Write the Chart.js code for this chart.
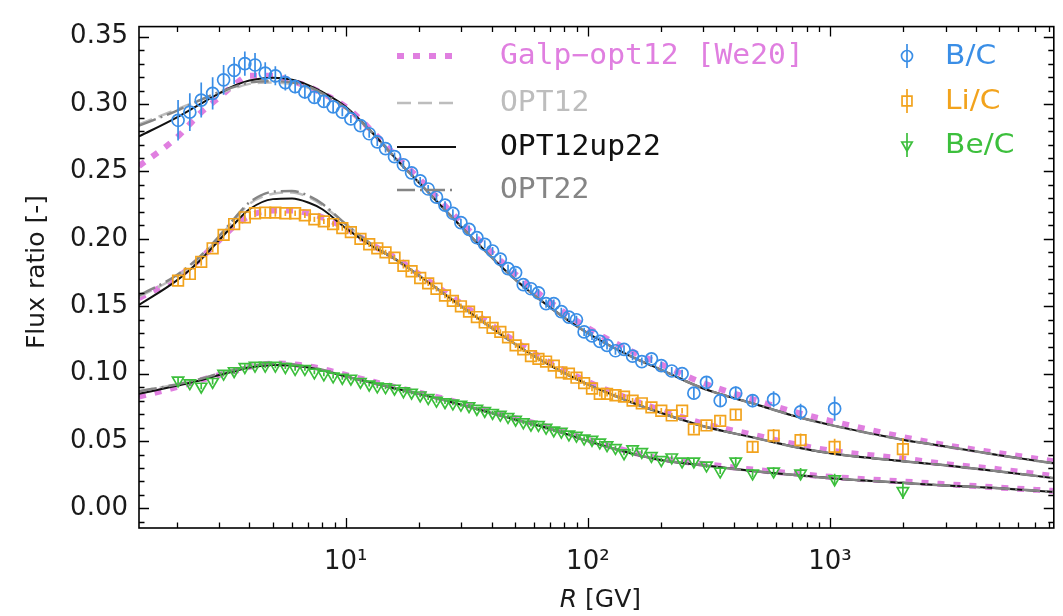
<!DOCTYPE html>
<html><head><meta charset="utf-8">
<script src="https://cdn.jsdelivr.net/npm/chart.js@4.4.1/dist/chart.umd.min.js"></script>
<style>html,body{margin:0;padding:0;background:#fff;}#c{display:block;}</style>
</head><body>
<canvas id="c" width="1063" height="616"></canvas>
<script>
// ---------- data (rigidity bins, GV) ----------
const binR = [2.03,2.27,2.53,2.82,3.13,3.46,3.83,4.22,4.65,5.12,5.63,6.18,6.78,7.42,8.12,8.87,9.68,10.5,11.5,12.5,13.5,14.6,15.9,17.3,18.7,20.3,21.9,23.7,25.7,27.7,29.9,32.3,34.8,37.5,40.4,43.5,46.8,50.3,54.1,58.2,62.5,67.2,72.3,77.7,83.5,89.7,96.5,104,112,120,130,141,153,167,183,201,222,245,274,309,352,408,479,585,756,1045,2000];

const bcVal = [0.288,0.294,0.303,0.308,0.318,0.325,0.330,0.329,0.323,0.321,
 0.316,0.313,0.309,0.305,0.302,0.298,0.294,0.289,0.284,0.278,
 0.272,0.267,0.261,0.255,0.249,0.243,0.237,0.231,0.225,0.219,
 0.212,0.207,0.201,0.196,0.191,0.185,0.178,0.175,0.166,0.163,
 0.160,0.152,0.152,0.146,0.142,0.140,0.131,0.128,0.124,0.121,
 0.117,0.118,0.113,0.109,0.111,0.106,0.102,0.100,0.0855,0.0935,
 0.080,0.0855,0.080,0.081,0.0717,0.074];
const bcErr = [0.015,0.014,0.013,0.012,0.011,0.010,0.009,0.009,0.008,0.007,
 0.006,0.005,0.005,0.004,0.004,0.004,0.003,0.003,0.003,0.003,
 0.003,0.003,0.003,0.003,0.003,0.003,0.003,0.003,0.003,0.003,
 0.003,0.003,0.003,0.003,0.003,0.003,0.003,0.003,0.003,0.003,
 0.003,0.003,0.003,0.003,0.003,0.003,0.003,0.003,0.003,0.003,
 0.003,0.003,0.003,0.003,0.003,0.003,0.003,0.003,0.004,0.004,
 0.004,0.005,0.005,0.006,0.006,0.009];

const liVal = [0.169,0.174,0.183,0.193,0.203,0.211,0.216,0.219,0.2195,0.2195,
 0.219,0.219,0.2175,0.2145,0.213,0.211,0.208,0.205,0.200,0.196,
 0.193,0.190,0.186,0.180,0.176,0.171,0.167,0.163,0.158,0.154,
 0.150,0.146,0.142,0.138,0.134,0.131,0.127,0.121,0.118,0.113,
 0.111,0.109,0.106,0.101,0.100,0.097,0.093,0.089,0.085,0.085,
 0.084,0.083,0.080,0.078,0.075,0.0725,0.069,0.0725,0.0587,0.0616,
 0.065,0.0696,0.0457,0.054,0.0507,0.0457,0.044];
const liErr = [0.004,0.004,0.003,0.003,0.003,0.003,0.003,0.003,0.003,0.003,
 0.002,0.002,0.002,0.002,0.002,0.002,0.002,0.002,0.002,0.002,
 0.002,0.002,0.002,0.002,0.002,0.002,0.002,0.002,0.002,0.002,
 0.002,0.002,0.002,0.002,0.002,0.002,0.002,0.002,0.002,0.002,
 0.002,0.002,0.002,0.002,0.002,0.002,0.002,0.002,0.002,0.002,
 0.002,0.002,0.002,0.002,0.002,0.002,0.002,0.002,
 0.003,0.003,0.003,0.004,0.004,0.005,0.005,0.006,0.008];

const beVal = [0.095,0.093,0.0905,0.094,0.100,0.102,0.105,0.106,0.106,0.106,
 0.105,0.1036,0.1036,0.101,0.0995,0.098,0.097,0.0964,0.094,0.092,
 0.0906,0.090,0.089,0.087,0.086,0.084,0.082,0.080,0.079,0.078,
 0.077,0.076,0.074,0.0725,0.071,0.0696,0.068,0.066,0.064,0.0623,
 0.062,0.060,0.058,0.057,0.055,0.054,0.052,0.051,0.049,0.047,
 0.045,0.041,0.044,0.042,0.039,0.036,0.038,0.035,0.035,0.032,
 0.0275,0.035,0.026,0.0275,0.026,0.0217,0.013];
const beErr = [0.002,0.002,0.002,0.002,0.002,0.002,0.002,0.002,0.002,0.002,
 0.0015,0.0015,0.0015,0.0015,0.0015,0.0015,0.0015,0.0015,0.0015,0.0015,
 0.0015,0.0015,0.0015,0.0015,0.0015,0.0015,0.0015,0.0015,0.0015,0.0015,
 0.0015,0.0015,0.0015,0.0015,0.0015,0.0015,0.0015,0.0015,0.0015,0.0015,
 0.0015,0.0015,0.0015,0.0015,0.0015,0.0015,0.0015,0.0015,0.0015,0.0015,
 0.0015,0.0015,0.0015,0.0015,0.0015,0.0015,0.0015,0.0015,
 0.002,0.002,0.002,0.003,0.003,0.003,0.004,0.004,0.006];

// ---------- model curves ----------
const modelR = [1.4,2,2.5,3,3.5,4,5,6,7,8,10,13,16,20,30,50,70,100,150,200,300,500,700,1000,2000,3000,5000,8400];

const bcGalp     = [0.254,0.275,0.293,0.305,0.315,0.321,0.321,0.317,0.313,0.308,0.298,0.279,0.262,0.245,0.212,0.174,0.153,0.134,0.117,0.107,0.093,0.080,0.072,0.065,0.053,0.047,0.041,0.035];
const bcOpt12    = [0.285,0.296,0.303,0.308,0.312,0.315,0.316,0.315,0.312,0.308,0.297,0.278,0.260,0.242,0.209,0.170,0.149,0.130,0.113,0.103,0.089,0.077,0.069,0.062,0.051,0.046,0.0395,0.0335];
const bcOpt12up22= [0.276,0.290,0.300,0.308,0.314,0.3175,0.3195,0.318,0.314,0.309,0.298,0.278,0.260,0.242,0.209,0.170,0.149,0.130,0.113,0.103,0.089,0.077,0.069,0.062,0.051,0.046,0.0395,0.0335];
const bcOpt22    = [0.284,0.295,0.303,0.309,0.313,0.316,0.317,0.316,0.313,0.308,0.297,0.278,0.260,0.242,0.209,0.170,0.149,0.130,0.113,0.103,0.089,0.077,0.069,0.062,0.051,0.046,0.0395,0.0335];

const liGalp     = [0.156,0.171,0.185,0.199,0.210,0.217,0.221,0.221,0.219,0.216,0.208,0.195,0.186,0.174,0.152,0.124,0.108,0.094,0.081,0.073,0.063,0.054,0.048,0.043,0.037,0.033,0.029,0.024];
const liOpt12    = [0.157,0.172,0.186,0.201,0.215,0.226,0.2335,0.2345,0.231,0.225,0.211,0.195,0.185,0.173,0.150,0.122,0.106,0.092,0.079,0.071,0.061,0.052,0.046,0.041,0.035,0.032,0.0275,0.0225];
const liOpt12up22= [0.151,0.169,0.184,0.199,0.212,0.222,0.2295,0.230,0.227,0.222,0.208,0.194,0.185,0.173,0.150,0.122,0.106,0.092,0.079,0.071,0.061,0.052,0.046,0.041,0.035,0.032,0.0275,0.0225];
const liOpt22    = [0.158,0.173,0.187,0.202,0.216,0.227,0.235,0.2355,0.232,0.226,0.211,0.195,0.185,0.173,0.150,0.122,0.106,0.092,0.079,0.071,0.061,0.052,0.046,0.041,0.035,0.032,0.0275,0.0225];

const beGalp     = [0.083,0.090,0.095,0.099,0.102,0.105,0.1075,0.107,0.1055,0.1035,0.099,0.094,0.090,0.086,0.078,0.067,0.060,0.051,0.042,0.037,0.033,0.0285,0.026,0.0235,0.020,0.018,0.0155,0.013];
const beOpt12    = [0.087,0.092,0.096,0.100,0.103,0.1055,0.1075,0.107,0.105,0.103,0.098,0.093,0.089,0.085,0.077,0.066,0.059,0.050,0.041,0.036,0.032,0.0275,0.025,0.0225,0.019,0.017,0.015,0.0123];
const beOpt12up22= [0.085,0.091,0.095,0.099,0.102,0.1045,0.1065,0.106,0.1045,0.1025,0.098,0.093,0.089,0.085,0.077,0.066,0.059,0.050,0.041,0.036,0.032,0.0275,0.025,0.0225,0.019,0.017,0.015,0.0123];
const beOpt22    = [0.087,0.092,0.096,0.100,0.103,0.1055,0.1075,0.107,0.105,0.103,0.098,0.093,0.089,0.085,0.077,0.066,0.059,0.050,0.041,0.036,0.032,0.0275,0.025,0.0225,0.019,0.017,0.015,0.0123];

// ---------- tick labels / text ----------
const xTickValues = [10, 100, 1000];
const xTickLabels = ['10\u00B9', '10\u00B2', '10\u00B3'];
const yTickValues = [0, 0.05, 0.10, 0.15, 0.20, 0.25, 0.30, 0.35];
const modelNames = ['Galp\u2212opt12 [We20]', 'OPT12', 'OPT12up22', 'OPT22'];
const dataNames = ['B/C', 'Li/C', 'Be/C'];

// ---------- styles ----------
const C_BLUE = '#3a8ee6', C_ORANGE = '#f2a31d', C_GREEN = '#3cbf3c';
const MODEL_STYLE = [
  {color:'#e07fe0', width:6,   dash:[7,9]},
  {color:'#bdbdbd', width:2.5, dash:[14,7]},
  {color:'#111111', width:2,   dash:[]},
  {color:'#858585', width:2.5, dash:[18,5,2,5]}
];
const DATA_STYLE = [
  {color:C_BLUE,   style:'circle',   radius:6,   rot:0},
  {color:C_ORANGE, style:'rect',     radius:7.5, rot:0},
  {color:C_GREEN,  style:'triangle', radius:6.5, rot:180}
];

const pts = (xs, ys) => ys.map((y, i) => ({x: xs[i], y}));

const datasets = [];
const modelSets = [
  [bcGalp, liGalp, beGalp],
  [bcOpt12, liOpt12, beOpt12],
  [bcOpt12up22, liOpt12up22, beOpt12up22],
  [bcOpt22, liOpt22, beOpt22]
];
const dataVals = [bcVal, liVal, beVal];
const dataErrs = [bcErr, liErr, beErr];
dataVals.forEach((vals, k) => {
  const s = DATA_STYLE[k];
  datasets.push({
    label: dataNames[k], data: pts(binR, vals), showLine:false,
    pointStyle: s.style, pointRadius: s.radius, pointRotation: s.rot,
    pointBorderColor: s.color, pointBackgroundColor: 'rgba(255,255,255,0)',
    pointBorderWidth: 1.7, order: 1, errors: dataErrs[k], clip: 0
  });
});
modelSets.forEach((arrs, m) => {
  const s = MODEL_STYLE[m];
  arrs.forEach(arr => {
    datasets.push({
      label: modelNames[m], data: pts(modelR, arr), showLine:true,
      borderColor: s.color, borderWidth: s.width, borderDash: s.dash,
      borderCapStyle: 'butt', pointRadius: 0, cubicInterpolationMode:'monotone',
      fill:false, order: m === 0 ? 10 : (6 - m), clip: 0
    });
  });
});

const FONT = 'DejaVu Sans';
function stretchText(ctx, text, x, y, sx) {
  ctx.save(); ctx.translate(x, y); ctx.scale(sx, 1); ctx.fillText(text, 0, 0); ctx.restore();
}
const decoPlugin = {
  id: 'deco',
  afterDatasetsDraw(chart) {
    const ctx = chart.ctx, a = chart.chartArea;
    const xs = chart.scales.x, ys = chart.scales.y;
    ctx.save();
    ctx.beginPath(); ctx.rect(a.left, a.top, a.right - a.left, a.bottom - a.top); ctx.clip();
    chart.data.datasets.forEach(ds => {
      if (!ds.errors) return;
      ctx.strokeStyle = ds.pointBorderColor; ctx.lineWidth = 1.7;
      ds.data.forEach((p, i) => {
        const e = ds.errors[i];
        const px = xs.getPixelForValue(p.x);
        ctx.beginPath();
        ctx.moveTo(px, ys.getPixelForValue(p.y - e));
        ctx.lineTo(px, ys.getPixelForValue(p.y + e));
        ctx.stroke();
      });
    });
    ctx.restore();
  },
  afterDraw(chart) {
    const ctx = chart.ctx, a = chart.chartArea;
    const xs = chart.scales.x, ys = chart.scales.y;
    ctx.save();
    ctx.strokeStyle = '#000'; ctx.lineWidth = 1.6;
    ctx.strokeRect(a.left, a.top, a.right - a.left, a.bottom - a.top);
    ctx.lineWidth = 1.3;
    for (let d = 0; d <= 3; d++) {
      for (let k = 1; k <= 9; k++) {
        const v = k * Math.pow(10, d);
        if (v < xs.min || v > xs.max) continue;
        const px = Math.round(xs.getPixelForValue(v)) + 0.5;
        const len = k === 1 ? 10 : 5.5;
        ctx.beginPath();
        ctx.moveTo(px, a.bottom); ctx.lineTo(px, a.bottom - len);
        ctx.moveTo(px, a.top); ctx.lineTo(px, a.top + len);
        ctx.stroke();
      }
    }
    for (let i = -1; i <= 35; i++) {
      const v = i / 100;
      if (v < ys.min || v > ys.max) continue;
      const py = Math.round(ys.getPixelForValue(v)) + 0.5;
      const len = (i % 5 === 0) ? 10 : 5.5;
      ctx.beginPath();
      ctx.moveTo(a.left, py); ctx.lineTo(a.left + len, py);
      ctx.moveTo(a.right, py); ctx.lineTo(a.right - len, py);
      ctx.stroke();
    }
    // axis titles
    ctx.fillStyle = '#1a1a1a';
    ctx.font = '25px "' + FONT + '"';
    ctx.textAlign = 'center'; ctx.textBaseline = 'middle';
    ctx.save();
    ctx.translate(37, 272);
    ctx.rotate(-Math.PI / 2);
    ctx.fillText('Flux ratio [-]', 0, 0);
    ctx.restore();
    const cx = (a.left + a.right) / 2 + 4;
    ctx.font = 'italic 25px "' + FONT + '"';
    const wR = ctx.measureText('R').width;
    ctx.font = '25px "' + FONT + '"';
    const wRest = ctx.measureText(' [GV]').width;
    const x0 = cx - (wR + wRest) / 2;
    ctx.textAlign = 'left';
    ctx.font = 'italic 25px "' + FONT + '"';
    ctx.fillText('R', x0, 600);
    ctx.font = '25px "' + FONT + '"';
    ctx.fillText(' [GV]', x0 + wR, 600);

    // legend: models
    const rows = [56, 103, 147, 190];
    ctx.textBaseline = 'middle'; ctx.textAlign = 'left';
    ctx.font = '28px "DejaVu Sans Mono"';
    MODEL_STYLE.forEach((s, i) => {
      ctx.strokeStyle = s.color; ctx.lineWidth = s.width; ctx.setLineDash(s.dash);
      ctx.lineCap = 'butt';
      ctx.beginPath(); ctx.moveTo(397, rows[i]); ctx.lineTo(i === 0 ? 460 : 456, rows[i]); ctx.stroke();
      ctx.setLineDash([]);
      ctx.fillStyle = s.color;
      stretchText(ctx, modelNames[i], 500, rows[i] + 1, 1.06);
    });
    // legend: data
    const drows = [56, 101, 145];
    ctx.font = '27px "' + FONT + '"';
    DATA_STYLE.forEach((s, i) => {
      const y = drows[i], x = 907;
      ctx.strokeStyle = s.color; ctx.lineWidth = 1.7;
      ctx.beginPath(); ctx.moveTo(x, y - 12); ctx.lineTo(x, y + 12); ctx.stroke();
      ctx.fillStyle = 'rgba(255,255,255,0)';
      Chart.helpers.drawPoint(ctx, {pointStyle: s.style, radius: s.radius - 0.5, rotation: s.rot, borderWidth: 1.7}, x, y);
      ctx.fillStyle = s.color;
      stretchText(ctx, dataNames[i], 945, y + 1, 1.1);
    });
    ctx.restore();
  }
};

new Chart(document.getElementById('c'), {
  type: 'scatter',
  data: { datasets },
  options: {
    responsive: false, animation: false, devicePixelRatio: 1,
    layout: { padding: { top: 17, right: 4, left: 0, bottom: 0 } },
    plugins: { legend: { display: false }, tooltip: { enabled: false } },
    scales: {
      x: {
        type: 'logarithmic', min: 1.4, max: 8400,
        grid: { display: false, drawTicks: false }, border: { display: false },
        afterBuildTicks: s => { s.ticks = xTickValues.map(v => ({value: v})); },
        afterFit: s => { s.height = 88; },
        ticks: {
          autoSkip: false, maxRotation: 0, padding: 19, color: '#1a1a1a',
          font: { family: FONT, size: 26 },
          callback: v => { const i = xTickValues.indexOf(v); return i >= 0 ? xTickLabels[i] : ''; }
        }
      },
      y: {
        type: 'linear', min: -0.0145, max: 0.3575,
        grid: { display: false, drawTicks: false }, border: { display: false },
        afterBuildTicks: s => { s.ticks = yTickValues.map(v => ({value: v})); },
        afterFit: s => { s.width = 139; },
        ticks: {
          padding: 11, color: '#1a1a1a', font: { family: FONT, size: 26 },
          callback: v => Number(v).toFixed(2)
        }
      }
    }
  },
  plugins: [decoPlugin]
});
</script>
</body></html>
